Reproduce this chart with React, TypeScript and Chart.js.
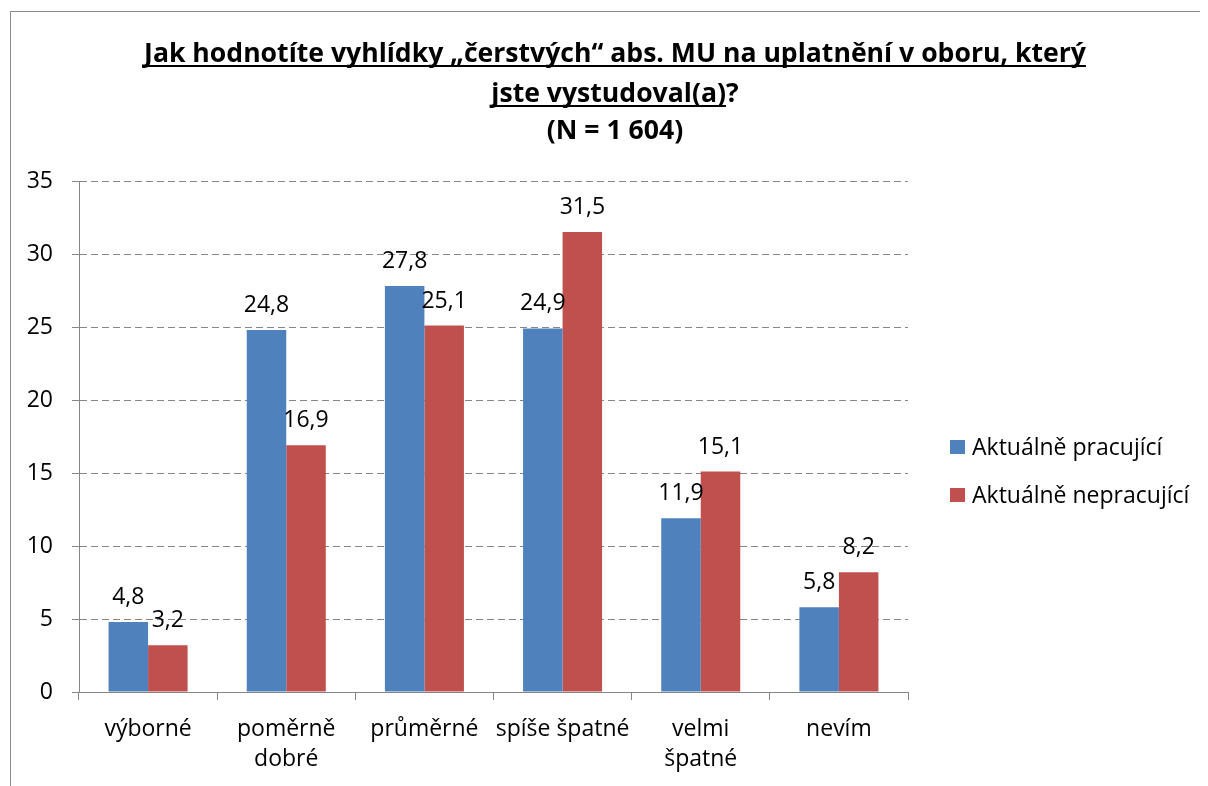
import React, { useEffect, useRef } from 'react';
import { Chart, registerables } from 'chart.js';

Chart.register(...registerables);

const categories: string[][] = [
  ['výborné'],
  ['poměrně', 'dobré'],
  ['průměrné'],
  ['spíše špatné'],
  ['velmi', 'špatné'],
  ['nevím'],
];
const seriesNames = ['Aktuálně pracující', 'Aktuálně nepracující'];
const working = [4.8, 24.8, 27.8, 24.9, 11.9, 5.8];
const notWorking = [3.2, 16.9, 25.1, 31.5, 15.1, 8.2];
const seriesColors = ['#4F81BD', '#C0504D'];
const titleLines = [
  'Jak hodnotíte vyhlídky „čerstvých“ abs. MU na uplatnění v oboru, který',
  'jste vystudoval(a)?',
  '(N = 1 604)',
];
const titleUnderlined = [
  'Jak hodnotíte vyhlídky „čerstvých“ abs. MU na uplatnění v oboru, který',
  'jste vystudoval(a)',
  '',
];
const yMin = 0;
const yMax = 35;
const yStep = 5;

const FONT = '"Open Sans", "Noto Sans", sans-serif';
const FS = 23;
const GRID = '#868686';

const framePlugin = {
  id: 'frame',
  beforeDraw(chart: any) {
    const ctx = chart.ctx;
    ctx.save();
    ctx.fillStyle = '#fff';
    ctx.fillRect(0, 0, chart.width, chart.height);
    ctx.strokeStyle = '#8a8a8a';
    ctx.lineWidth = 1;
    ctx.strokeRect(2.5, 3.5, 1400, 1000);
    ctx.restore();
  },
};

const titlePlugin = {
  id: 'ulTitle',
  afterDraw(chart: any) {
    const ctx = chart.ctx;
    ctx.save();
    ctx.font = `bold 26.6px ${FONT}`;
    ctx.fillStyle = '#000';
    ctx.textAlign = 'left';
    ctx.textBaseline = 'alphabetic';
    const cx = 607;
    const baselines = [54, 94, 131];
    titleLines.forEach((line, i) => {
      const w = ctx.measureText(line).width;
      const x0 = cx - w / 2;
      ctx.fillText(line, x0, baselines[i]);
      const u = titleUnderlined[i];
      if (u) {
        const uw = ctx.measureText(u).width;
        ctx.fillRect(x0, baselines[i] + 3, uw, 2);
      }
    });
    ctx.restore();
  },
};

const labelPlugin = {
  id: 'valueLabels',
  afterDatasetsDraw(chart: any) {
    const ctx = chart.ctx;
    ctx.save();
    ctx.font = `${FS}px ${FONT}`;
    ctx.fillStyle = '#000';
    ctx.textAlign = 'center';
    ctx.textBaseline = 'alphabetic';
    chart.data.datasets.forEach((ds: any, di: number) => {
      const meta = chart.getDatasetMeta(di);
      meta.data.forEach((el: any, i: number) => {
        const v = ds.data[i] as number;
        ctx.fillText(v.toFixed(1).replace('.', ','), el.x, el.y - 18);
      });
    });
    ctx.restore();
  },
};

const legendPlugin = {
  id: 'sideLegend',
  afterDraw(chart: any) {
    const ctx = chart.ctx;
    ctx.save();
    ctx.font = `${FS}px ${FONT}`;
    ctx.textAlign = 'left';
    ctx.textBaseline = 'middle';
    const x = 942;
    const ys = [439, 487];
    chart.data.datasets.forEach((ds: any, i: number) => {
      ctx.fillStyle = ds.backgroundColor;
      ctx.fillRect(x, ys[i] - 7, 15, 14);
      ctx.fillStyle = '#000';
      ctx.fillText(ds.label, x + 22, ys[i] + 1);
    });
    ctx.restore();
  },
};

export default function App() {
  const ref = useRef<HTMLCanvasElement | null>(null);
  useEffect(() => {
    document.documentElement.style.overflow = 'hidden';
    const canvas = ref.current!;
    const chart = new Chart(canvas, {
      type: 'bar',
      data: {
        labels: categories as any,
        datasets: [
          { label: seriesNames[0], data: working, backgroundColor: seriesColors[0], borderWidth: 0 },
          { label: seriesNames[1], data: notWorking, backgroundColor: seriesColors[1], borderWidth: 0 },
        ],
      },
      options: {
        responsive: false,
        animation: false,
        devicePixelRatio: 1,
        layout: { padding: { top: 173, right: 300, left: 0, bottom: 0 } },
        datasets: { bar: { categoryPercentage: 0.572, barPercentage: 1.0 } },
        plugins: {
          legend: { display: false },
          title: { display: false },
          tooltip: { enabled: false },
        },
        scales: {
          x: {
            grid: {
              display: true,
              drawOnChartArea: false,
              drawTicks: true,
              tickLength: 8,
              color: GRID,
              tickColor: GRID,
              offset: true,
            },
            border: { display: true, color: GRID, width: 1 },
            ticks: {
              color: '#000',
              font: { family: FONT, size: FS, lineHeight: 1.3 },
              padding: 15,
              maxRotation: 0,
              autoSkip: false,
            },
            afterFit: (s: any) => { s.height = 94; },
          },
          y: {
            min: yMin,
            max: yMax,
            ticks: {
              stepSize: yStep,
              color: '#000',
              font: { family: FONT, size: FS },
              padding: 19,
            },
            grid: {
              color: GRID,
              lineWidth: 1,
              tickLength: 7,
              tickColor: GRID,
              drawTicks: true,
            },
            border: { display: true, color: GRID, width: 1, dash: [7, 4] },
            afterFit: (s: any) => { s.width = 71; },
          },
        },
      },
      plugins: [framePlugin, titlePlugin, labelPlugin, legendPlugin],
    });
    return () => chart.destroy();
  }, []);
  return <canvas ref={ref} width={1200} height={778} style={{ display: 'block' }} />;
}
